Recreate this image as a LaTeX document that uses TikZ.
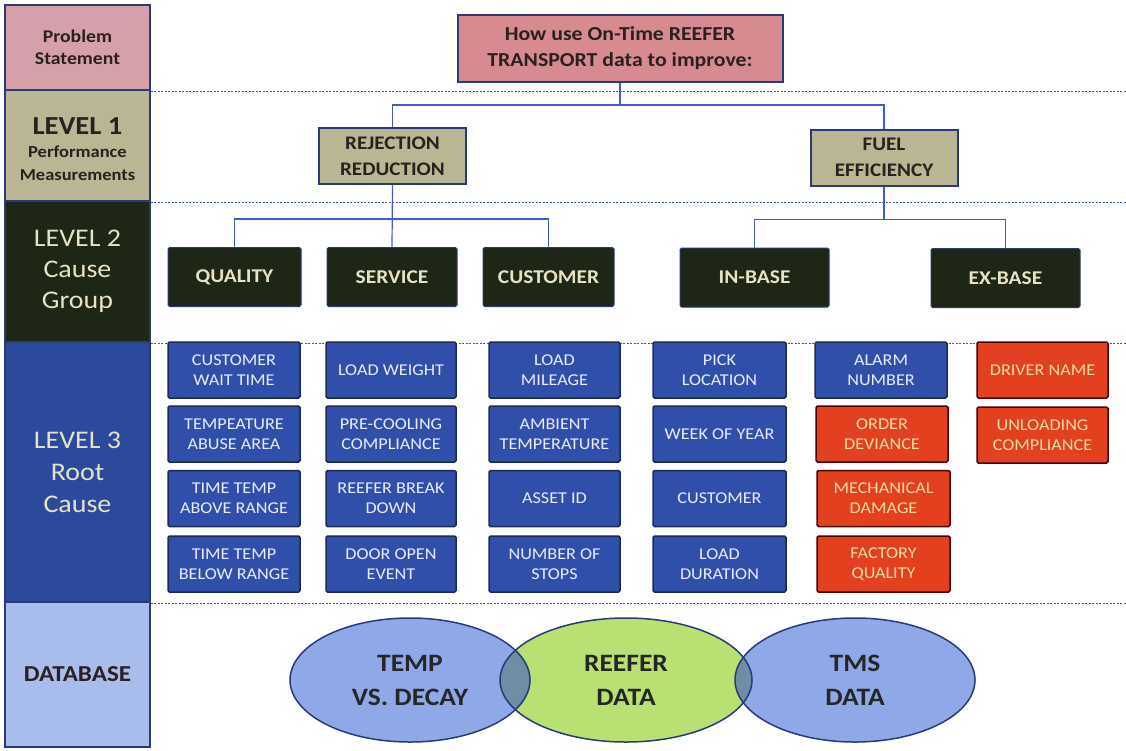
\documentclass[tikz,border=0pt]{standalone}
\usepackage{fontspec}
\setmainfont{Carlito}[FakeStretch=1.1]
\usetikzlibrary{shapes.geometric}
\definecolor{navy}{HTML}{283A78}
\definecolor{pinkL}{HTML}{D6A0A8}
\definecolor{pinkT}{HTML}{D78A90}
\definecolor{khaki}{HTML}{BAB593}
\definecolor{darkg}{HTML}{1E2616}
\definecolor{lblue}{HTML}{2C4A9C}
\definecolor{bblue}{HTML}{2F4FAA}
\definecolor{dbblue}{HTML}{A9BDED}
\definecolor{redf}{HTML}{E2401F}
\definecolor{redtext}{HTML}{F8DDA2}
\definecolor{cream}{HTML}{E6E3C5}
\definecolor{txtdark}{HTML}{2A2020}
\definecolor{conn}{HTML}{3E5BD0}
\definecolor{dashc}{HTML}{3A4FC0}
\definecolor{ellblue}{HTML}{8FA8E8}
\definecolor{ellgreen}{HTML}{B9E072}
\definecolor{overlap}{HTML}{6F8EA6}
\begin{document}
\begin{tikzpicture}[x=1pt,y=-1pt,
  rowbox/.style={draw=navy, line width=1.8pt, minimum width=145pt, inner sep=0pt, align=center},
  dashline/.style={dashc, line width=0.8pt, dash pattern=on 2pt off 1.5pt},
  connline/.style={conn, line width=1.2pt},
  topbox/.style={draw=navy, line width=2pt, fill=pinkT, text=txtdark, align=center,
    font=\bfseries\fontsize{19.8}{26}\selectfont, inner sep=0pt},
  lonebox/.style={draw=navy, line width=2pt, fill=khaki, text=txtdark, align=center,
    font=\bfseries\fontsize{19.2}{26}\selectfont, inner sep=0pt, minimum width=147pt, minimum height=56pt},
  ltwobox/.style={draw=navy, line width=1pt, fill=darkg, text=cream, align=center, rounded corners=1.5pt,
    font=\bfseries\fontsize{19.5}{22}\selectfont, inner sep=0pt, minimum height=59pt},
  lthreebox/.style={draw=navy!70!black, line width=1.5pt, fill=bblue, text=white!92!blue, align=center, rounded corners=1.5pt,
    font=\fontsize{16.5}{20}\selectfont, inner sep=0pt, minimum width=132pt, minimum height=56pt},
  redbox/.style={lthreebox, fill=redf, text=redtext, draw=black!70!red},
  elltext/.style={ellipse, draw=navy, line width=1.5pt, inner sep=0pt, align=center, text=black!85,
    font=\bfseries\fontsize{25}{34}\selectfont}
]
\useasboundingbox (0,0) rectangle (1126,750);

% left column rows
\node[rowbox, fill=pinkL, minimum height=85pt, text=txtdark, font=\bfseries\fontsize{17.9}{22}\selectfont] (ps) at (77.5,47.5) {Problem\\Statement};
\node[rowbox, fill=khaki, minimum height=111pt] (lone) at (77.5,145.5) {};
\node[rowbox, fill=darkg, minimum height=141pt] (ltwo) at (77.5,271.5) {};
\node[rowbox, fill=lblue, minimum height=260pt] (lthree) at (77.5,472) {};
\node[rowbox, fill=dbblue, minimum height=145pt, text=txtdark, font=\bfseries\fontsize{22.8}{26}\selectfont] (db) at (77.5,674.5) {DATABASE};

\node[align=center, text=txtdark, inner sep=0pt, font=\bfseries\fontsize{16.8}{23}\selectfont] (lonelab) at (77.5,149)
  {\fontsize{26}{28}\selectfont LEVEL 1\\\fontsize{16.8}{23}\selectfont Performance\\Measurements};
\node[align=center, text=cream, inner sep=0pt, font=\fontsize{25.4}{31}\selectfont] (ltwolab) at (77.5,271) {LEVEL 2\\Cause\\Group};
\node[align=center, text=cream, inner sep=0pt, font=\fontsize{25.4}{32}\selectfont] (lthreelab) at (77.5,472) {LEVEL 3\\Root\\Cause};

% dashed separators
\draw[dashline] (ps.south east) -- ++(976,0);
\draw[dashline] (lone.south east) -- ++(976,0);
\draw[dashline] (ltwo.south east) -- ++(976,0);
\draw[dashline] (lthree.south east) -- ++(976,0);

% top & level 1
\node[topbox, minimum width=325pt, minimum height=67pt] (top) at (620,48.5) {How use On-Time REEFER\\TRANSPORT data to improve:};
\node[lonebox] (rej) at (392.5,156) {REJECTION\\REDUCTION};
\node[lonebox] (fuel) at (884,157.5) {FUEL\\EFFICIENCY};

% level 2
\node[ltwobox, minimum width=133pt] (qual) at (234.5,277) {QUALITY};
\node[ltwobox, minimum width=130pt] (serv) at (392,277) {SERVICE};
\node[ltwobox, minimum width=131pt] (cust) at (548.5,277) {CUSTOMER};
\node[ltwobox, minimum width=149pt] (inb) at (754.5,277.5) {IN-BASE};
\node[ltwobox, minimum width=149pt] (exb) at (1005.5,278) {EX-BASE};

% connectors
\draw[connline] (top.south) -- ++(0,22) -| (rej.north);
\draw[connline] (top.south) -- ++(0,22) -| (fuel.north);
\draw[connline] (rej.south) -- ++(0,34) -| (qual.north);
\draw[connline] (rej.south) -- ++(0,34) -| (cust.north);
\draw[connline] (rej.south) -- (serv.north);
\draw[connline] (fuel.south) -- ++(0,33) -| (inb.north);
\draw[connline] (fuel.south) -- ++(0,33) -| (exb.north);

% level 3
\node[lthreebox] (a1) at (234,370) {CUSTOMER\\WAIT TIME};
\node[lthreebox] (a2) at (234,434) {TEMPEATURE\\ABUSE AREA};
\node[lthreebox] (a3) at (234,498.5) {TIME TEMP\\ABOVE RANGE};
\node[lthreebox] (a4) at (234,564) {TIME TEMP\\BELOW RANGE};
\node[lthreebox, minimum width=130pt] (b1) at (391,370) {LOAD WEIGHT};
\node[lthreebox, minimum width=130pt] (b2) at (391,434) {PRE-COOLING\\COMPLIANCE};
\node[lthreebox, minimum width=130pt] (b3) at (391,498.5) {REEFER BREAK\\DOWN};
\node[lthreebox, minimum width=130pt] (b4) at (391,564) {DOOR OPEN\\EVENT};
\node[lthreebox, minimum width=131pt] (c1) at (554.5,370) {LOAD\\MILEAGE};
\node[lthreebox, minimum width=131pt] (c2) at (554.5,434) {AMBIENT\\TEMPERATURE};
\node[lthreebox, minimum width=131pt] (c3) at (554.5,498.5) {ASSET ID};
\node[lthreebox, minimum width=131pt] (c4) at (554.5,564) {NUMBER OF\\STOPS};
\node[lthreebox, minimum width=133pt] (d1) at (719.5,370) {PICK\\LOCATION};
\node[lthreebox, minimum width=133pt] (d2) at (719.5,434) {WEEK OF YEAR};
\node[lthreebox, minimum width=133pt] (d3) at (719.5,498.5) {CUSTOMER};
\node[lthreebox, minimum width=133pt] (d4) at (719.5,564) {LOAD\\DURATION};
\node[lthreebox] (e1) at (881,370) {ALARM\\NUMBER};
\node[redbox] (e2) at (882,434) {ORDER\\DEVIANCE};
\node[redbox, minimum width=133pt] (e3) at (883.5,498.5) {MECHANICAL\\DAMAGE};
\node[redbox, minimum width=133pt] (e4) at (883.5,564) {FACTORY\\QUALITY};
\node[redbox, minimum width=131pt] (f1) at (1042.5,370) {DRIVER NAME};
\node[redbox, minimum width=131pt] (f2) at (1042.5,435) {UNLOADING\\COMPLIANCE};

% database ellipses
\fill[ellblue] (410,680) ellipse [x radius=120pt, y radius=62pt];
\fill[ellblue] (855,680) ellipse [x radius=120pt, y radius=62pt];
\fill[ellgreen] (626,680) ellipse [x radius=126pt, y radius=62pt];
\begin{scope}
  \clip (410,680) ellipse [x radius=120pt, y radius=62pt];
  \fill[overlap] (626,680) ellipse [x radius=126pt, y radius=62pt];
\end{scope}
\begin{scope}
  \clip (855,680) ellipse [x radius=120pt, y radius=62pt];
  \fill[overlap] (626,680) ellipse [x radius=126pt, y radius=62pt];
\end{scope}
\node[elltext, minimum width=240pt, minimum height=124pt] (temp) at (410,680) {TEMP\\VS. DECAY};
\node[elltext, minimum width=252pt, minimum height=124pt] (reef) at (626,680) {REEFER\\DATA};
\node[elltext, minimum width=240pt, minimum height=124pt] (tms) at (855,680) {TMS\\DATA};
\end{tikzpicture}
\end{document}
